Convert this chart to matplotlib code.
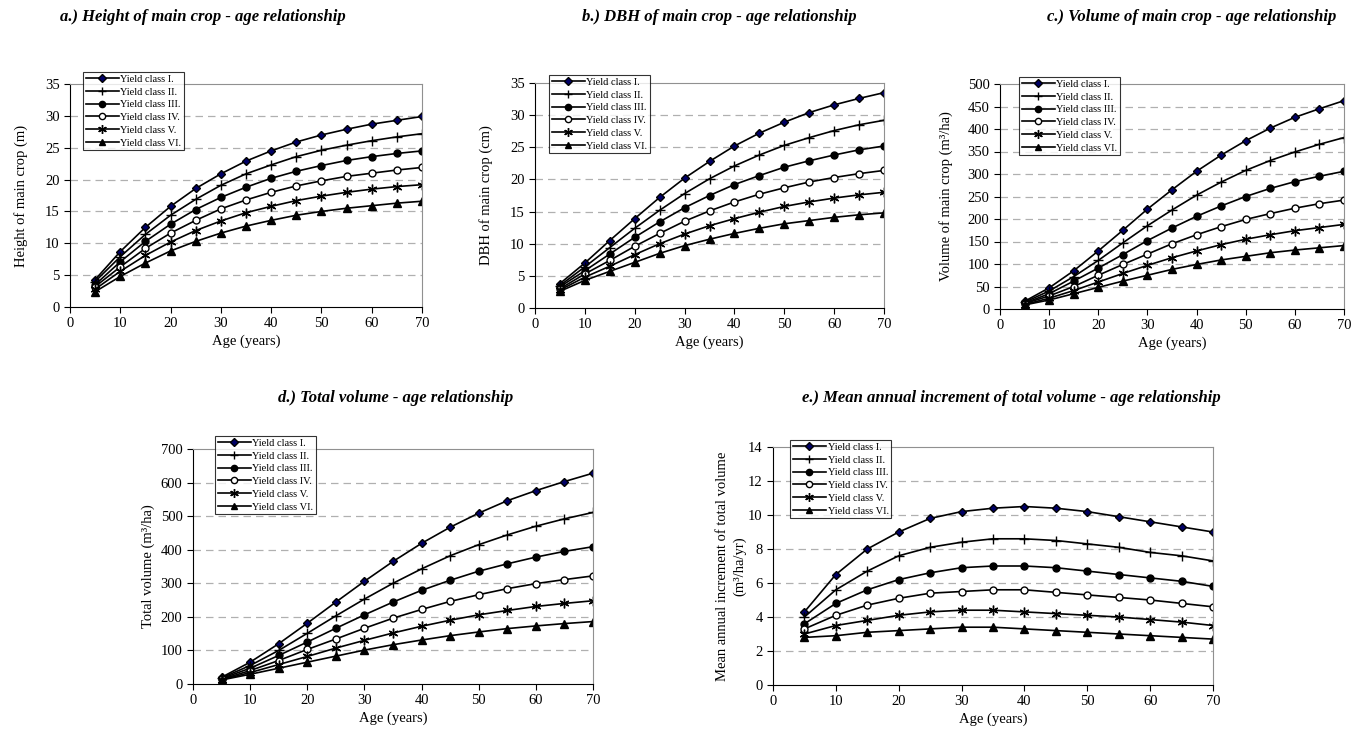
import matplotlib
matplotlib.use("Agg")
import matplotlib.pyplot as plt

plt.rcParams['font.family'] = ['Liberation Serif', 'DejaVu Serif']

ages = [5, 10, 15, 20, 25, 30, 35, 40, 45, 50, 55, 60, 65, 70]
classes = ["Yield class I.", "Yield class II.", "Yield class III.",
           "Yield class IV.", "Yield class V.", "Yield class VI."]

height = [
    [4.3, 8.7, 12.5, 15.8, 18.6, 20.9, 22.9, 24.5, 25.9, 27.0, 27.9, 28.7, 29.3, 29.9],
    [4.0, 7.9, 11.4, 14.4, 16.9, 19.1, 20.9, 22.3, 23.6, 24.6, 25.4, 26.1, 26.7, 27.2],
    [3.5, 7.1, 10.3, 13.0, 15.3, 17.2, 18.8, 20.2, 21.3, 22.2, 23.0, 23.6, 24.1, 24.5],
    [3.2, 6.3, 9.2, 11.6, 13.6, 15.4, 16.8, 18.0, 19.0, 19.8, 20.5, 21.0, 21.5, 21.9],
    [2.8, 5.6, 8.1, 10.2, 12.0, 13.5, 14.8, 15.8, 16.7, 17.4, 18.0, 18.5, 18.9, 19.2],
    [2.4, 4.8, 6.9, 8.8, 10.3, 11.6, 12.7, 13.6, 14.4, 15.0, 15.5, 15.9, 16.3, 16.6],
]
dbh = [
    [3.8, 7.0, 10.5, 13.9, 17.2, 20.2, 22.8, 25.2, 27.2, 28.9, 30.4, 31.6, 32.6, 33.5],
    [3.5, 6.4, 9.4, 12.4, 15.2, 17.8, 20.1, 22.1, 23.8, 25.3, 26.5, 27.6, 28.5, 29.2],
    [3.3, 5.8, 8.4, 11.0, 13.4, 15.6, 17.5, 19.2, 20.6, 21.9, 22.9, 23.8, 24.6, 25.2],
    [3.0, 5.3, 7.4, 9.6, 11.6, 13.5, 15.1, 16.5, 17.7, 18.7, 19.6, 20.3, 20.9, 21.4],
    [2.8, 4.8, 6.5, 8.3, 10.0, 11.5, 12.8, 13.9, 14.9, 15.8, 16.5, 17.1, 17.6, 18.0],
    [2.6, 4.3, 5.7, 7.1, 8.5, 9.7, 10.7, 11.6, 12.4, 13.1, 13.6, 14.1, 14.5, 14.8],
]
volume = [
    [17, 47, 85, 129, 175, 222, 265, 306, 342, 374, 402, 426, 445, 463],
    [15, 40, 72, 108, 147, 185, 220, 253, 282, 308, 330, 349, 366, 381],
    [13, 34, 62, 91, 121, 152, 180, 206, 229, 250, 268, 283, 295, 306],
    [12, 29, 50, 75, 99, 122, 145, 165, 183, 199, 212, 224, 234, 242],
    [10, 24, 41, 60, 79, 97, 114, 129, 143, 155, 165, 174, 181, 188],
    [9, 20, 34, 48, 62, 75, 88, 99, 109, 117, 125, 131, 136, 141],
]
total = [
    [20, 65, 120, 181, 244, 306, 365, 419, 467, 509, 546, 576, 603, 628],
    [18, 55, 100, 151, 203, 253, 300, 343, 382, 415, 444, 470, 492, 511],
    [16, 47, 85, 125, 166, 206, 244, 279, 309, 336, 358, 378, 395, 409],
    [14, 40, 70, 103, 134, 166, 196, 222, 246, 266, 284, 299, 311, 322],
    [13, 34, 58, 82, 107, 130, 152, 172, 190, 206, 219, 231, 240, 248],
    [12, 29, 47, 65, 83, 101, 117, 131, 144, 155, 165, 173, 180, 186],
]
mai = [
    [4.3, 6.5, 8.0, 9.0, 9.8, 10.2, 10.4, 10.5, 10.4, 10.2, 9.9, 9.6, 9.3, 9.0],
    [4.0, 5.6, 6.7, 7.6, 8.1, 8.4, 8.6, 8.6, 8.5, 8.3, 8.1, 7.8, 7.6, 7.3],
    [3.6, 4.8, 5.6, 6.2, 6.6, 6.9, 7.0, 7.0, 6.9, 6.7, 6.5, 6.3, 6.1, 5.8],
    [3.3, 4.1, 4.7, 5.1, 5.4, 5.5, 5.6, 5.6, 5.45, 5.3, 5.15, 5.0, 4.8, 4.6],
    [3.0, 3.5, 3.8, 4.1, 4.3, 4.4, 4.4, 4.3, 4.2, 4.1, 4.0, 3.85, 3.7, 3.5],
    [2.8, 2.9, 3.1, 3.2, 3.3, 3.4, 3.4, 3.3, 3.2, 3.1, 3.0, 2.9, 2.8, 2.7],
]

titles = [
    "a.) Height of main crop - age relationship",
    "b.) DBH of main crop - age relationship",
    "c.) Volume of main crop - age relationship",
    "d.) Total volume - age relationship",
    "e.) Mean annual increment of total volume - age relationship",
]
ylabels = [
    "Height of main crop (m)",
    "DBH of main crop (cm)",
    "Volume of main crop (m³/ha)",
    "Total volume (m³/ha)",
    "Mean annual increment of total volume\n(m³/ha/yr)",
]
xlabel = "Age (years)"
ymaxes = [35, 35, 500, 700, 14]
ysteps = [5, 5, 50, 100, 2]

W, H = 1355, 736
fig = plt.figure(figsize=(W / 100, H / 100), dpi=100)

def rect(l, t, r, b):
    return [l / W, 1 - b / H, (r - l) / W, (b - t) / H]

# axes boxes (pixels): left, top, right, bottom
boxes = [
    (70, 84, 422, 307),
    (535, 83, 884, 308),
    (1000, 84, 1344, 309),
    (193, 449, 593, 684),
    (773, 447, 1213, 685),
]
legend_pos = [(83, 72), (549, 75), (1019, 77), (215, 436), (790, 440)]
title_pos = [(203, 17), (719, 17), (1192, 17), (396, 398), (1011, 398)]
ylabel_x = [28, 493, 953, 155, 746]

markers = ['D', '+', 'o', 'o', (6, 2, 0), '^']
mfc = ['#000066', 'black', 'black', 'white', 'black', 'black']
msizes = [4.0, 7, 5, 5, 7, 5.5]

datasets = [height, dbh, volume, total, mai]

for i, data in enumerate(datasets):
    ax = fig.add_axes(rect(*boxes[i]))
    for k, series in enumerate(data):
        ax.plot(ages, series, color='black', lw=1.2, marker=markers[k],
                markersize=msizes[k], markerfacecolor=mfc[k],
                markeredgecolor='black', markeredgewidth=1.0,
                label=classes[k])
    ax.set_xlim(0, 70)
    ax.set_ylim(0, ymaxes[i])
    ax.set_xticks(range(0, 71, 10))
    ax.set_yticks(range(0, ymaxes[i] + 1, ysteps[i]))
    ax.tick_params(direction='out', length=4, width=0.8, labelsize=10.5,
                   colors='black')
    for yv in range(ysteps[i], ymaxes[i], ysteps[i]):
        ax.axhline(yv, color='#b0b0b0', lw=0.9, ls=(0, (6, 4)), zorder=0)
    ax.spines['top'].set_color('#909090')
    ax.spines['right'].set_color('#909090')
    ax.spines['left'].set_color('black')
    ax.spines['bottom'].set_color('black')
    for s in ax.spines.values():
        s.set_linewidth(0.8)
    ax.set_xlabel(xlabel, fontsize=10.5, labelpad=3)
    ax.yaxis.set_label_coords((ylabel_x[i] - boxes[i][0]) / (boxes[i][2] - boxes[i][0]), 0.5)
    ax.set_ylabel(ylabels[i], fontsize=10.5, linespacing=1.3)
    lx, ly = legend_pos[i]
    leg = ax.legend(loc='upper left', bbox_to_anchor=(lx / W, 1 - ly / H),
                    bbox_transform=fig.transFigure, fontsize=7.5,
                    frameon=True, fancybox=False, edgecolor='black',
                    handlelength=3.2, handletextpad=0.15, labelspacing=0.33,
                    borderpad=0.25, borderaxespad=0, markerscale=0.9)
    leg.get_frame().set_linewidth(0.8)
    leg.set_zorder(10)
    tx, ty = title_pos[i]
    fig.text(tx / W, 1 - ty / H, titles[i], ha='center', va='center',
             fontsize=12, fontweight='bold', fontstyle='italic')

fig.savefig("out.png", dpi=100)
